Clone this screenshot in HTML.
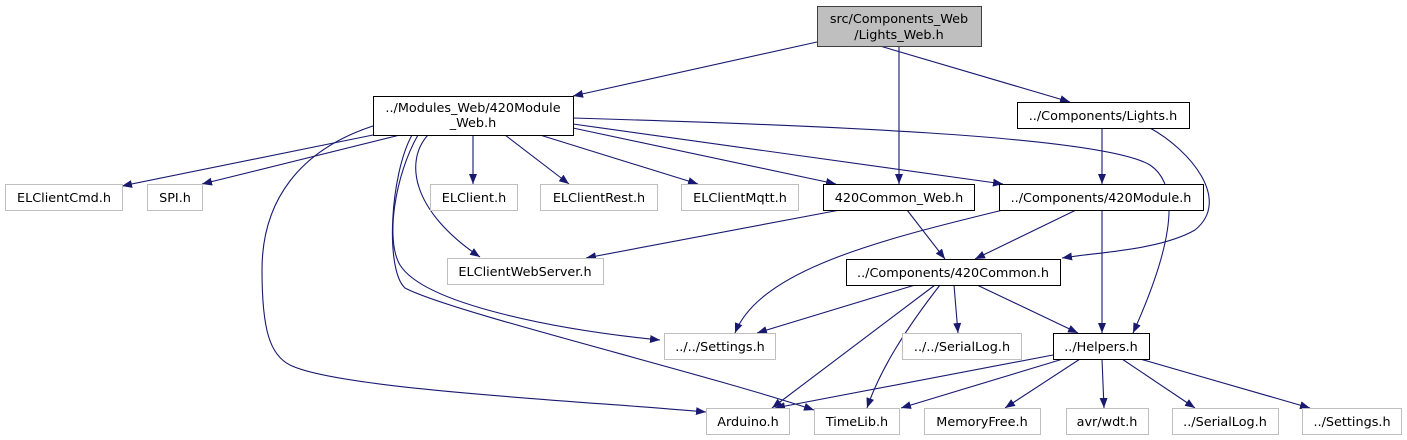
<!DOCTYPE html>
<html><head><meta charset="utf-8"><style>
html,body{margin:0;padding:0;background:#fff;}
svg{display:block;}
text{font-family:"DejaVu Sans","Liberation Sans",sans-serif;font-size:12.8px;fill:#000;}
</style></head><body>
<svg width="1407" height="440" viewBox="0 0 1407 440" xmlns="http://www.w3.org/2000/svg">
<defs>
<marker id="a" markerWidth="10" markerHeight="8" refX="10" refY="4" orient="auto" markerUnits="userSpaceOnUse">
<path d="M0,0 L10,4 L0,8 Z" fill="#191970"/>
</marker>
</defs>
<g fill="none" stroke="#191970" stroke-width="1.1" marker-end="url(#a)">
<path d="M817,42 L573,96"/>
<path d="M899,46 L899,184"/>
<path d="M880,46 L1070,102"/>
<path d="M1102,128 L1102,184"/>
<path d="M1150,128 C1190,150 1232,200 1195,230 C1160,250 1100,252 1062,258"/>
<path d="M373,135 L122,186"/>
<path d="M400,135 L202,184"/>
<path d="M473,135 L473,184"/>
<path d="M505,135 L569,184"/>
<path d="M540,135 L698,184"/>
<path d="M573,128 L836,184"/>
<path d="M573,124 L1003,184"/>
<path d="M573,118 C800,125 1100,135 1150,165 C1180,185 1175,240 1133,333"/>
<path d="M428,135 C405,160 410,210 480,257"/>
<path d="M418,135 C395,175 385,240 400,265 C425,305 560,330 660,340"/>
<path d="M412,135 C390,175 385,270 405,288 C450,312 700,372 814,410"/>
<path d="M373,126 C300,150 262,200 262,270 C262,330 270,355 290,365 C340,390 600,402 706,412"/>
<path d="M840,210 L586,258"/>
<path d="M907,210 L945,259"/>
<path d="M1076,210 L975,259"/>
<path d="M1003,210 C880,240 760,270 735,333"/>
<path d="M1102,210 L1102,333"/>
<path d="M915,285 L757,333"/>
<path d="M954,285 L958,333"/>
<path d="M977,285 L1078,333"/>
<path d="M935,285 L772,408"/>
<path d="M940,285 C905,330 880,370 867,408"/>
<path d="M1053,355 L775,408"/>
<path d="M1063,359 L901,408"/>
<path d="M1080,359 L1005,408"/>
<path d="M1102,359 L1104,408"/>
<path d="M1122,359 L1195,408"/>
<path d="M1140,359 L1310,408"/>
</g>
<g stroke-width="1">
<rect x="817.5" y="6.5" width="164" height="40" fill="#bfbfbf" stroke="#404040"/>
<rect x="373.5" y="96.5" width="200" height="39" fill="#fff" stroke="#000"/>
<rect x="1017.5" y="102.5" width="172" height="26" fill="#fff" stroke="#000"/>
<rect x="823.5" y="184.5" width="151" height="26" fill="#fff" stroke="#000"/>
<rect x="999.5" y="184.5" width="204" height="26" fill="#fff" stroke="#000"/>
<rect x="846.5" y="259.5" width="214" height="26" fill="#fff" stroke="#000"/>
<rect x="1053.5" y="333.5" width="96" height="26" fill="#fff" stroke="#000"/>
</g>
<g fill="#fff" stroke="#bfbfbf" stroke-width="1">
<rect x="5.5" y="184.5" width="117" height="26"/>
<rect x="147.5" y="184.5" width="55" height="26"/>
<rect x="430.5" y="184.5" width="87" height="26"/>
<rect x="540.5" y="184.5" width="117" height="26"/>
<rect x="681.5" y="184.5" width="117" height="26"/>
<rect x="447.5" y="258.5" width="156" height="26"/>
<rect x="664.5" y="333.5" width="111" height="26"/>
<rect x="902.5" y="333.5" width="119" height="26"/>
<rect x="706.5" y="408.5" width="83" height="26"/>
<rect x="814.5" y="408.5" width="85" height="26"/>
<rect x="924.5" y="408.5" width="116" height="26"/>
<rect x="1066.5" y="408.5" width="82" height="26"/>
<rect x="1172.5" y="408.5" width="106" height="26"/>
<rect x="1302.5" y="408.5" width="99" height="26"/>
</g>
<g text-anchor="middle">
<text x="899" y="23">src/Components_Web</text>
<text x="899" y="39">/Lights_Web.h</text>
<text x="473" y="112">../Modules_Web/420Module</text>
<text x="473" y="127">_Web.h</text>
<text x="1103" y="120">../Components/Lights.h</text>
<text x="899" y="202">420Common_Web.h</text>
<text x="1101" y="202">../Components/420Module.h</text>
<text x="953" y="277">../Components/420Common.h</text>
<text x="1101" y="351">../Helpers.h</text>
<text x="64" y="202">ELClientCmd.h</text>
<text x="175" y="202">SPI.h</text>
<text x="474" y="202">ELClient.h</text>
<text x="599" y="202">ELClientRest.h</text>
<text x="740" y="202">ELClientMqtt.h</text>
<text x="525" y="276">ELClientWebServer.h</text>
<text x="720" y="351">../../Settings.h</text>
<text x="962" y="351">../../SerialLog.h</text>
<text x="748" y="426">Arduino.h</text>
<text x="857" y="426">TimeLib.h</text>
<text x="982" y="426">MemoryFree.h</text>
<text x="1107" y="426">avr/wdt.h</text>
<text x="1225" y="426">../SerialLog.h</text>
<text x="1352" y="426">../Settings.h</text>
</g>
</svg>
</body></html>
